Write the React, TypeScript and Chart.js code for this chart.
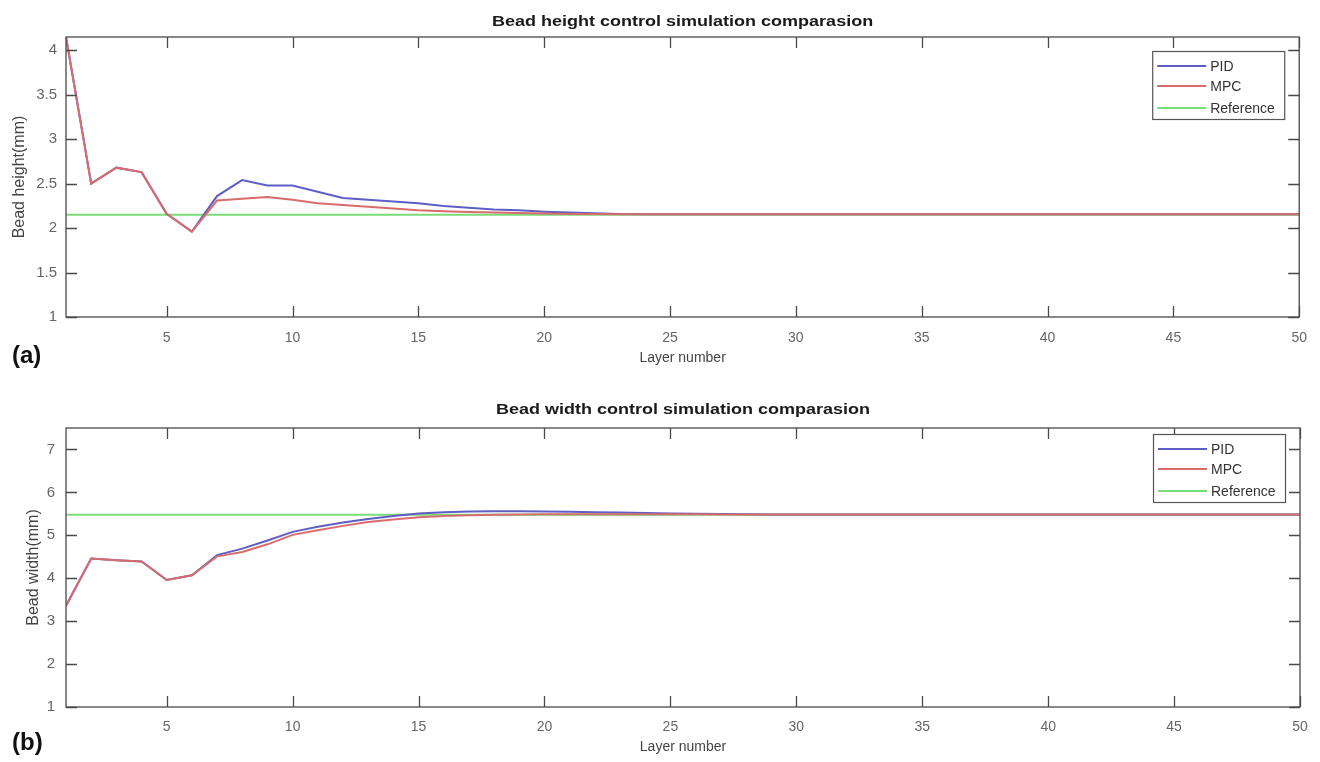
import React, { useEffect, useRef } from "react";
import { Chart, registerables } from "chart.js";

Chart.register(...registerables);

// ---------- data ----------
const layers = [
  1, 2, 3, 4, 5, 6, 7, 8, 9, 10, 11, 12, 13, 14, 15, 16, 17, 18, 19, 20, 21, 22, 23, 24, 25,
  26, 27, 28, 29, 30, 31, 32, 33, 34, 35, 36, 37, 38, 39, 40, 41, 42, 43, 44, 45, 46, 47, 48, 49, 50,
];

const heightPID = [
  4.15, 2.5, 2.68, 2.63, 2.16, 1.96, 2.36, 2.54, 2.48, 2.48, 2.41, 2.34, 2.32, 2.3, 2.28, 2.25, 2.23, 2.21, 2.2, 2.185,
  2.175, 2.168, 2.16, 2.157, 2.156, 2.155, 2.155, 2.155, 2.155, 2.155, 2.155, 2.155, 2.155, 2.155, 2.155, 2.155, 2.155,
  2.155, 2.155, 2.155, 2.155, 2.155, 2.155, 2.155, 2.155, 2.155, 2.155, 2.155, 2.155, 2.155,
];
const heightMPC = [
  4.15, 2.5, 2.68, 2.63, 2.16, 1.96, 2.31, 2.33, 2.35, 2.32, 2.28, 2.26, 2.24, 2.22, 2.2, 2.19, 2.18, 2.175, 2.17, 2.165,
  2.16, 2.158, 2.156, 2.155, 2.155, 2.155, 2.155, 2.155, 2.155, 2.155, 2.155, 2.155, 2.155, 2.155, 2.155, 2.155, 2.155,
  2.155, 2.155, 2.155, 2.155, 2.155, 2.155, 2.155, 2.155, 2.155, 2.155, 2.155, 2.155, 2.155,
];
const refLayers = [1, 50];
const heightRef = [2.15, 2.15];

const widthPID = [
  3.36, 4.46, 4.42, 4.39, 3.96, 4.07, 4.54, 4.69, 4.88, 5.08, 5.2, 5.3, 5.38, 5.45, 5.51, 5.54, 5.555, 5.56, 5.56, 5.555,
  5.55, 5.54, 5.53, 5.52, 5.51, 5.5, 5.495, 5.49, 5.485, 5.485, 5.485, 5.485, 5.485, 5.485, 5.485, 5.485, 5.485, 5.485,
  5.485, 5.485, 5.485, 5.485, 5.485, 5.485, 5.485, 5.485, 5.485, 5.485, 5.485, 5.485,
];
const widthMPC = [
  3.36, 4.46, 4.42, 4.39, 3.96, 4.07, 4.51, 4.61, 4.79, 5.01, 5.12, 5.22, 5.31, 5.37, 5.42, 5.45, 5.47, 5.48, 5.485, 5.49,
  5.49, 5.49, 5.49, 5.49, 5.49, 5.488, 5.486, 5.485, 5.485, 5.485, 5.485, 5.485, 5.485, 5.485, 5.485, 5.485, 5.485, 5.485,
  5.485, 5.485, 5.485, 5.485, 5.485, 5.485, 5.485, 5.485, 5.485, 5.485, 5.485, 5.485,
];
const widthRef = [5.48, 5.48];

const xTickValues = [5, 10, 15, 20, 25, 30, 35, 40, 45, 50];
const heightTicks = [1, 1.5, 2, 2.5, 3, 3.5, 4];
const widthTicks = [1, 2, 3, 4, 5, 6, 7];
const seriesLabels = ["PID", "MPC", "Reference"];
const seriesColors = ["#5e5ec4", "#d86c6c", "#78dc78"];

// ---------- plugin: MATLAB-like frame, inward ticks, title and legend ----------
const matlabPlugin = {
  id: "matlabFrame",
  afterDatasetsDraw(chart: any, _args: any, opts: any) {
    const { ctx, chartArea: a, scales } = chart;
    ctx.save();
    ctx.strokeStyle = "#4a4a4a";
    ctx.lineWidth = 1.3;
    ctx.strokeRect(a.left, a.top, a.right - a.left, a.bottom - a.top);
    const tl = 11;
    ctx.beginPath();
    scales.x.ticks.forEach((t: any) => {
      const px = Math.round(scales.x.getPixelForValue(t.value)) + 0.5;
      ctx.moveTo(px, a.bottom);
      ctx.lineTo(px, a.bottom - tl);
      ctx.moveTo(px, a.top);
      ctx.lineTo(px, a.top + tl);
    });
    scales.y.ticks.forEach((t: any) => {
      const py = Math.round(scales.y.getPixelForValue(t.value)) + 0.5;
      ctx.moveTo(a.left, py);
      ctx.lineTo(a.left + tl, py);
      ctx.moveTo(a.right, py);
      ctx.lineTo(a.right - tl, py);
    });
    ctx.stroke();

    ctx.save();
    ctx.fillStyle = "#1a1a1a";
    ctx.font = "bold 15px 'Liberation Sans', Arial, sans-serif";
    ctx.textAlign = "center";
    ctx.textBaseline = "middle";
    ctx.translate((a.left + a.right) / 2, opts.titleY);
    ctx.scale(1.2, 1);
    ctx.fillText(opts.title, 0, 0);
    ctx.restore();

    const bx = a.right - 147;
    const by = a.top + opts.legendTop;
    const bw = 132;
    const bh = 68;
    ctx.fillStyle = "#ffffff";
    ctx.fillRect(bx, by, bw, bh);
    ctx.strokeStyle = "#555555";
    ctx.lineWidth = 1.2;
    ctx.strokeRect(bx + 0.5, by + 0.5, bw, bh);
    const rows = [15, 35, 57];
    ctx.font = "14px 'Liberation Sans', Arial, sans-serif";
    ctx.textAlign = "left";
    ctx.textBaseline = "middle";
    chart.data.datasets.forEach((ds: any, i: number) => {
      const ry = by + rows[i];
      ctx.strokeStyle = ds.borderColor;
      ctx.lineWidth = 2;
      ctx.beginPath();
      ctx.moveTo(bx + 5, ry);
      ctx.lineTo(bx + 54, ry);
      ctx.stroke();
      ctx.fillStyle = "#333333";
      ctx.fillText(ds.label, bx + 58, ry + 1);
    });
    ctx.restore();
  },
};

type PanelProps = {
  title: string;
  yTitle: string;
  pid: number[];
  mpc: number[];
  ref: number[];
  yMin: number;
  yMax: number;
  yTicks: number[];
  canvasHeight: number;
  padTop: number;
  xAxisHeight: number;
  xTickPad: number;
  xTitlePad: number;
  yTickPad: number;
  yTitlePad: number;
  titleY: number;
  legendTop: number;
};

function Panel(p: PanelProps) {
  const ref = useRef<HTMLCanvasElement | null>(null);

  useEffect(() => {
    if (!ref.current) return;
    const toPts = (xs: number[], ys: number[]) => ys.map((y, i) => ({ x: xs[i], y }));
    const chart = new Chart(ref.current, {
      type: "line",
      data: {
        datasets: [
          { label: seriesLabels[0], data: toPts(layers, p.pid), borderColor: seriesColors[0], borderWidth: 2, pointRadius: 0, tension: 0, order: 1 },
          { label: seriesLabels[1], data: toPts(layers, p.mpc), borderColor: seriesColors[1], borderWidth: 2, pointRadius: 0, tension: 0, order: 0 },
          { label: seriesLabels[2], data: toPts(refLayers, p.ref), borderColor: seriesColors[2], borderWidth: 2, pointRadius: 0, tension: 0, order: 2 },
        ],
      },
      options: {
        responsive: false,
        animation: false,
        devicePixelRatio: 1,
        layout: { padding: { top: p.padTop, right: 20, left: 0, bottom: 0 } },
        plugins: {
          legend: { display: false },
          tooltip: { enabled: false },
          title: { display: false },
          matlabFrame: { title: p.title, titleY: p.titleY, legendTop: p.legendTop },
        } as any,
        scales: {
          x: {
            type: "linear",
            min: 1,
            max: 50,
            grid: { display: false, drawTicks: false },
            border: { display: false },
            afterBuildTicks: (s: any) => {
              s.ticks = xTickValues.map((v) => ({ value: v }));
            },
            afterFit: (s: any) => {
              s.height = p.xAxisHeight;
            },
            ticks: {
              padding: p.xTickPad,
              color: "#666666",
              maxRotation: 0,
              autoSkip: false,
              font: { family: "'Liberation Sans', Arial, sans-serif", size: 14 },
              callback: (v: any) => String(v),
            },
            title: {
              display: true,
              text: "Layer number",
              color: "#444444",
              padding: { top: 0, bottom: p.xTitlePad },
              font: { family: "'Liberation Sans', Arial, sans-serif", size: 14 },
            },
          },
          y: {
            type: "linear",
            min: p.yMin,
            max: p.yMax,
            grid: { display: false, drawTicks: false },
            border: { display: false },
            afterBuildTicks: (s: any) => {
              s.ticks = p.yTicks.map((v) => ({ value: v }));
            },
            afterFit: (s: any) => {
              s.width = 66;
            },
            ticks: {
              padding: p.yTickPad,
              color: "#666666",
              autoSkip: false,
              font: { family: "'Liberation Sans', Arial, sans-serif", size: 15 },
              callback: (v: any) => String(v),
            },
            title: {
              display: true,
              text: p.yTitle,
              color: "#444444",
              padding: { top: p.yTitlePad, bottom: 0 },
              font: { family: "'Liberation Sans', Arial, sans-serif", size: 16 },
            },
          },
        },
      },
      plugins: [matlabPlugin],
    } as any);
    return () => chart.destroy();
  }, []);

  return <canvas ref={ref} width={1320} height={p.canvasHeight} style={{ display: "block" }} />;
}

const labelStyle: React.CSSProperties = {
  position: "absolute",
  left: 12,
  fontFamily: "'Liberation Sans', Arial, sans-serif",
  fontWeight: "bold",
  fontSize: 24,
  lineHeight: "24px",
  color: "#111",
};

export default function App() {
  return (
    <div style={{ position: "absolute", left: 0, top: 0, width: 1320, height: 762, background: "#fff" }}>
      <Panel
        title="Bead height control simulation comparasion"
        yTitle="Bead height(mm)"
        pid={heightPID}
        mpc={heightMPC}
        ref={heightRef}
        yMin={1}
        yMax={4.15}
        yTicks={heightTicks}
        canvasHeight={380}
        padTop={37}
        xAxisHeight={63}
        xTickPad={13}
        xTitlePad={13}
        yTickPad={9}
        yTitlePad={10}
        titleY={22}
        legendTop={14}
      />
      <Panel
        title="Bead width control simulation comparasion"
        yTitle="Bead width(mm)"
        pid={widthPID}
        mpc={widthMPC}
        ref={widthRef}
        yMin={1}
        yMax={7.5}
        yTicks={widthTicks}
        canvasHeight={382}
        padTop={48}
        xAxisHeight={55}
        xTickPad={12}
        xTitlePad={6}
        yTickPad={11}
        yTitlePad={24}
        titleY={30}
        legendTop={6}
      />
      <div style={{ ...labelStyle, top: 343 }}>(a)</div>
      <div style={{ ...labelStyle, top: 730 }}>(b)</div>
    </div>
  );
}
